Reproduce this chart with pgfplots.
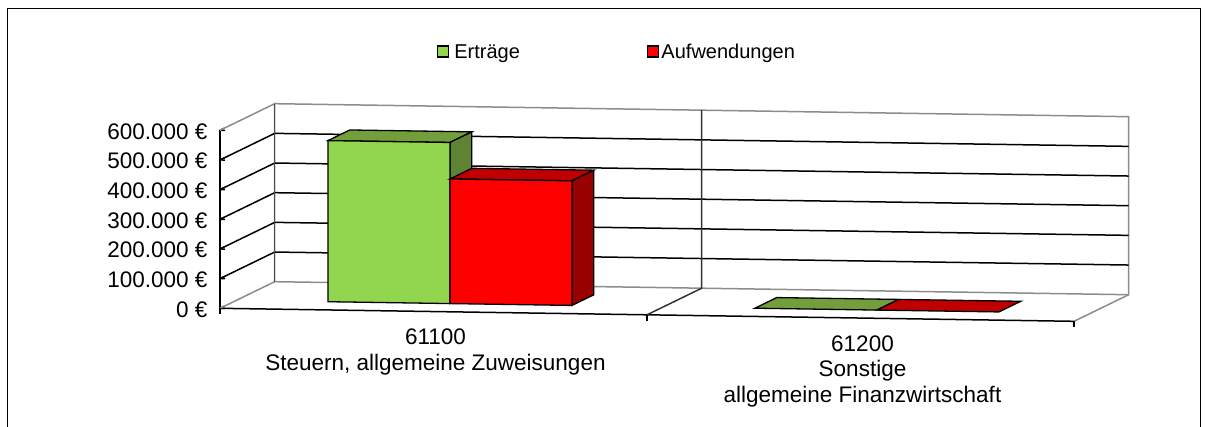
\documentclass[border=0pt]{standalone}
\usepackage{pgfplots}
\pgfplotsset{compat=1.18}
\usepackage{fontspec}
\setmainfont{Liberation Sans}
\definecolor{grn}{HTML}{92D650}
\definecolor{grnT}{HTML}{739E3C}
\definecolor{grnS}{HTML}{5E8433}
\definecolor{redT}{HTML}{C00000}
\definecolor{redS}{HTML}{990000}
\definecolor{wallg}{gray}{0.55}
\begin{document}
\begin{tikzpicture}[x=1pt,y=1pt]
\path[use as bounding box] (0,0) rectangle (1206,-427);
\draw[black,line width=1pt] (7,-427) -- (7,-8.5) -- (1200.5,-8.5) -- (1200.5,-427);
\begin{axis}[
  at={(220pt,-308.3pt)}, anchor=origin,
  x={(427pt,-6.5pt)}, y={(54.7pt,26.6pt)}, z={(0pt,0.29667pt)},
  xmin=0,xmax=2,ymin=0,ymax=1,zmin=0,zmax=600,
  clip=false,
  axis x line*=left, axis y line=none, axis z line*=left,
  axis line style={line width=1.5pt,-},
  xtick={0.5,1.5},
  xticklabels={{61100\\Steuern, allgemeine Zuweisungen},{61200\\Sonstige\\allgemeine Finanzwirtschaft}},
  xticklabel style={align=center,anchor=north,xshift=2pt,yshift=-14pt,font=\fontsize{22.5}{25.5}\selectfont},
  x tick style={draw=none},
  ztick={0,100,200,300,400,500,600},
  zticklabels={0 €,100.000 €,200.000 €,300.000 €,400.000 €,500.000 €,600.000 €},
  zticklabel style={anchor=east,xshift=-9pt,yshift=-1pt,font=\fontsize{22.5}{25}\selectfont},
  z tick style={black,line width=1.5pt},
  major tick length=5pt,
  legend columns=2,
  legend cell align=left,
  legend style={draw=none,fill=none,font=\fontsize{20}{24}\selectfont,
     at={(axis cs:0.5,0,874)},anchor=west,
     /tikz/column 1/.style={column sep=3pt},
     /tikz/column 2/.style={column sep=125pt}},
]
% walls
\addplot3[forget plot,wallg,line width=1.5pt] coordinates {(0,1,600)(2,1,600)(2,1,0)(2,0,0)};
\addplot3[forget plot,wallg,line width=1.5pt] coordinates {(0,0,600)(0,1,600)(0,1,0)};
\addplot3[forget plot,wallg,line width=1.5pt] coordinates {(0,0,0)(0,1,0)(2,1,0)};
% horizontal grid
\addplot3[forget plot,black,line width=1.5pt] coordinates {(0,0,100)(0,1,100)(2,1,100)};
\addplot3[forget plot,black,line width=1.5pt] coordinates {(0,0,200)(0,1,200)(2,1,200)};
\addplot3[forget plot,black,line width=1.5pt] coordinates {(0,0,300)(0,1,300)(2,1,300)};
\addplot3[forget plot,black,line width=1.5pt] coordinates {(0,0,400)(0,1,400)(2,1,400)};
\addplot3[forget plot,black,line width=1.5pt] coordinates {(0,0,500)(0,1,500)(2,1,500)};
% vertical gridlines and ticks
\addplot3[forget plot,black!80,line width=1.5pt] coordinates {(1,0,0)(1,1,0)(1,1,600)};
\addplot3[forget plot,black!70,line width=1.5pt] coordinates {(0,1,0)(0,1,600)};
\addplot3[forget plot,black,line width=1.5pt] coordinates {(0,0,0)(0,0,-20)};
\addplot3[forget plot,black,line width=1.5pt] coordinates {(1,0,0)(1,0,-20)};
\addplot3[forget plot,black,line width=1.5pt] coordinates {(2,0,0)(2,0,-20)};
% legend entries
\addlegendimage{legend image code/.code={\draw[draw=black,line width=1.6pt,fill=grn] (0pt,-5pt) rectangle (11pt,6pt);}}
\addlegendentry{Erträge}
\addlegendimage{legend image code/.code={\draw[draw=black,line width=1.6pt,fill=red] (0pt,-5pt) rectangle (11pt,6pt);}}
\addlegendentry{Aufwendungen}
% Erträge 61100
\addplot3[forget plot,fill=grnT,draw=black,line width=1.3pt] coordinates {(0.2143,0.3,543)(0.5,0.3,543)(0.5,0.7,543)(0.2143,0.7,543)} -- cycle;
\addplot3[forget plot,fill=grnS,draw=black,line width=1.3pt] coordinates {(0.5,0.3,0)(0.5,0.7,0)(0.5,0.7,543)(0.5,0.3,543)} -- cycle;
\addplot3[forget plot,fill=grn,draw=black,line width=1.3pt] coordinates {(0.2143,0.3,0)(0.5,0.3,0)(0.5,0.3,543)(0.2143,0.3,543)} -- cycle;
% Aufwendungen 61100
\addplot3[forget plot,fill=redT,draw=black,line width=1.3pt] coordinates {(0.5,0.3,420)(0.7857,0.3,420)(0.7857,0.7,420)(0.5,0.7,420)} -- cycle;
\addplot3[forget plot,fill=redS,draw=black,line width=1.3pt] coordinates {(0.7857,0.3,0)(0.7857,0.7,0)(0.7857,0.7,420)(0.7857,0.3,420)} -- cycle;
\addplot3[forget plot,fill=red,draw=black,line width=1.3pt] coordinates {(0.5,0.3,0)(0.7857,0.3,0)(0.7857,0.3,420)(0.5,0.3,420)} -- cycle;
% 61200
\addplot3[forget plot,fill=grnT,draw=black,line width=1.3pt] coordinates {(1.2143,0.3,0)(1.5,0.3,0)(1.5,0.7,0)(1.2143,0.7,0)} -- cycle;
\addplot3[forget plot,fill=redT,draw=black,line width=1.3pt] coordinates {(1.5,0.3,0)(1.7857,0.3,0)(1.7857,0.7,0)(1.5,0.7,0)} -- cycle;
\end{axis}
\end{tikzpicture}
\end{document}
